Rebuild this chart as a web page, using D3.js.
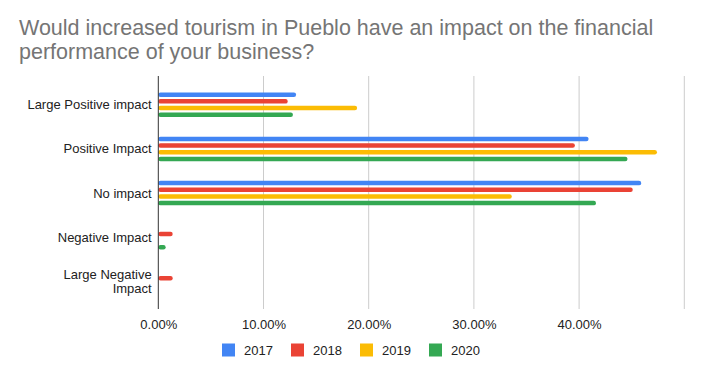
<!DOCTYPE html>
<html>
<head>
<meta charset="utf-8">
<script src="https://cdn.jsdelivr.net/npm/d3@7"></script>
<style>
  body { margin: 0; background: #fff; }
  svg { font-family: "Liberation Sans", Arial, sans-serif; }
</style>
</head>
<body>
<div id="chart"></div>
<script>
// data
var categories = ["Large Positive impact", "Positive Impact", "No impact", "Negative Impact", "Large Negative Impact"];
var years = ["2017", "2018", "2019", "2020"];
var v2017 = [0.131, 0.409, 0.459, 0, 0];
var v2018 = [0.123, 0.396, 0.451, 0.0137, 0.0137];
var v2019 = [0.189, 0.474, 0.336, 0, 0];
var v2020 = [0.128, 0.446, 0.416, 0.007, 0];
var tickValues = [0, 0.1, 0.2, 0.3, 0.4];
var gridValues = [0.1, 0.2, 0.3, 0.4, 0.5];
var colors = ["#4285F4", "#EA4335", "#FBBC04", "#34A853"];
var titleLines = ["Would increased tourism in Pueblo have an impact on the financial", "performance of your business?"];

var series = [v2017, v2018, v2019, v2020];

var W = 703, H = 376;
var svg = d3.select("#chart").append("svg")
	.attr("width", W)
	.attr("height", H);

// title, one text per line
svg.append("g")
	.selectAll("text")
	.data(titleLines)
	.join("text")
		.attr("x", 19)
		.attr("y", (d, i) => 35 + i * 24)
		.attr("fill", "#757575")
		.style("font-size", "21.5px")
		.text(d => d);

var x = d3.scaleLinear()
	.domain([0, 0.5])
	.range([158.3, 684.3]);

var y = d3.scaleBand()
	.domain(categories)
	.range([82.6, 303.6]);

var yInner = d3.scaleBand()
	.domain(years)
	.range([0, 26.7]);

var chartTop = 76, chartBottom = 309;

// gridlines
svg.append("g")
	.selectAll("line")
	.data(gridValues)
	.join("line")
		.attr("x1", d => x(d))
		.attr("x2", d => x(d))
		.attr("y1", chartTop)
		.attr("y2", chartBottom)
		.attr("stroke", "#cccccc")
		.attr("stroke-width", 1);

// bars
var groups = svg.append("g")
	.selectAll("g")
	.data(categories)
	.join("g")
		.attr("transform", d => "translate(0," + (y(d) + y.bandwidth() / 2 - 13.35) + ")");

groups.selectAll("rect")
	.data((c, i) => series.map((s, j) => ({ year: years[j], value: s[i], color: colors[j] })))
	.join("rect")
		.filter(d => d.value > 0)
		.attr("x", x(0))
		.attr("y", d => yInner(d.year) + yInner.bandwidth() / 2 - 2.25)
		.attr("width", d => x(d.value) - x(0))
		.attr("height", 4.5)
		.attr("rx", 2.2)
		.attr("fill", d => d.color);

// zero axis line
svg.append("line")
	.attr("x1", x(0))
	.attr("x2", x(0))
	.attr("y1", chartTop)
	.attr("y2", chartBottom)
	.attr("stroke", "#333")
	.attr("stroke-width", 1);

// x tick labels
var xAxis = d3.axisBottom(x)
	.tickValues(tickValues)
	.tickFormat(d3.format(".2%"))
	.tickSize(0)
	.tickPadding(0);

var gx = svg.append("g")
	.attr("transform", "translate(0,320)")
	.call(xAxis);
gx.select(".domain").remove();
gx.selectAll("text")
	.attr("fill", "#222")
	.style("font-size", "13px")
	.style("font-family", "'Liberation Sans', Arial, sans-serif");

// category labels
var labelLines = {
	"Large Negative Impact": ["Large Negative", "Impact"]
};
var labels = svg.append("g")
	.selectAll("text")
	.data(categories)
	.join("text")
		.attr("text-anchor", "end")
		.attr("fill", "#222")
		.style("font-size", "13px");

labels.each(function(d) {
	var lines = labelLines[d] || [d];
	var cy = y(d) + y.bandwidth() / 2;
	var t = d3.select(this);
	lines.forEach(function(l, i) {
		t.append("tspan")
			.attr("x", 151.7)
			.attr("y", cy + (i - (lines.length - 1) / 2) * 13.5)
			.attr("dy", "0.35em")
			.text(l);
	});
});

// legend
var legend = svg.append("g")
	.selectAll("g")
	.data(years)
	.join("g")
		.attr("transform", (d, i) => "translate(" + (222 + i * 69) + ",343.5)");

legend.append("rect")
	.attr("width", 13)
	.attr("height", 13)
	.attr("fill", (d, i) => colors[i]);

legend.append("text")
	.attr("x", 22)
	.attr("y", 6.5)
	.attr("dy", "0.35em")
	.attr("fill", "#222")
	.style("font-size", "13px")
	.text(d => d);
</script>
</body>
</html>
